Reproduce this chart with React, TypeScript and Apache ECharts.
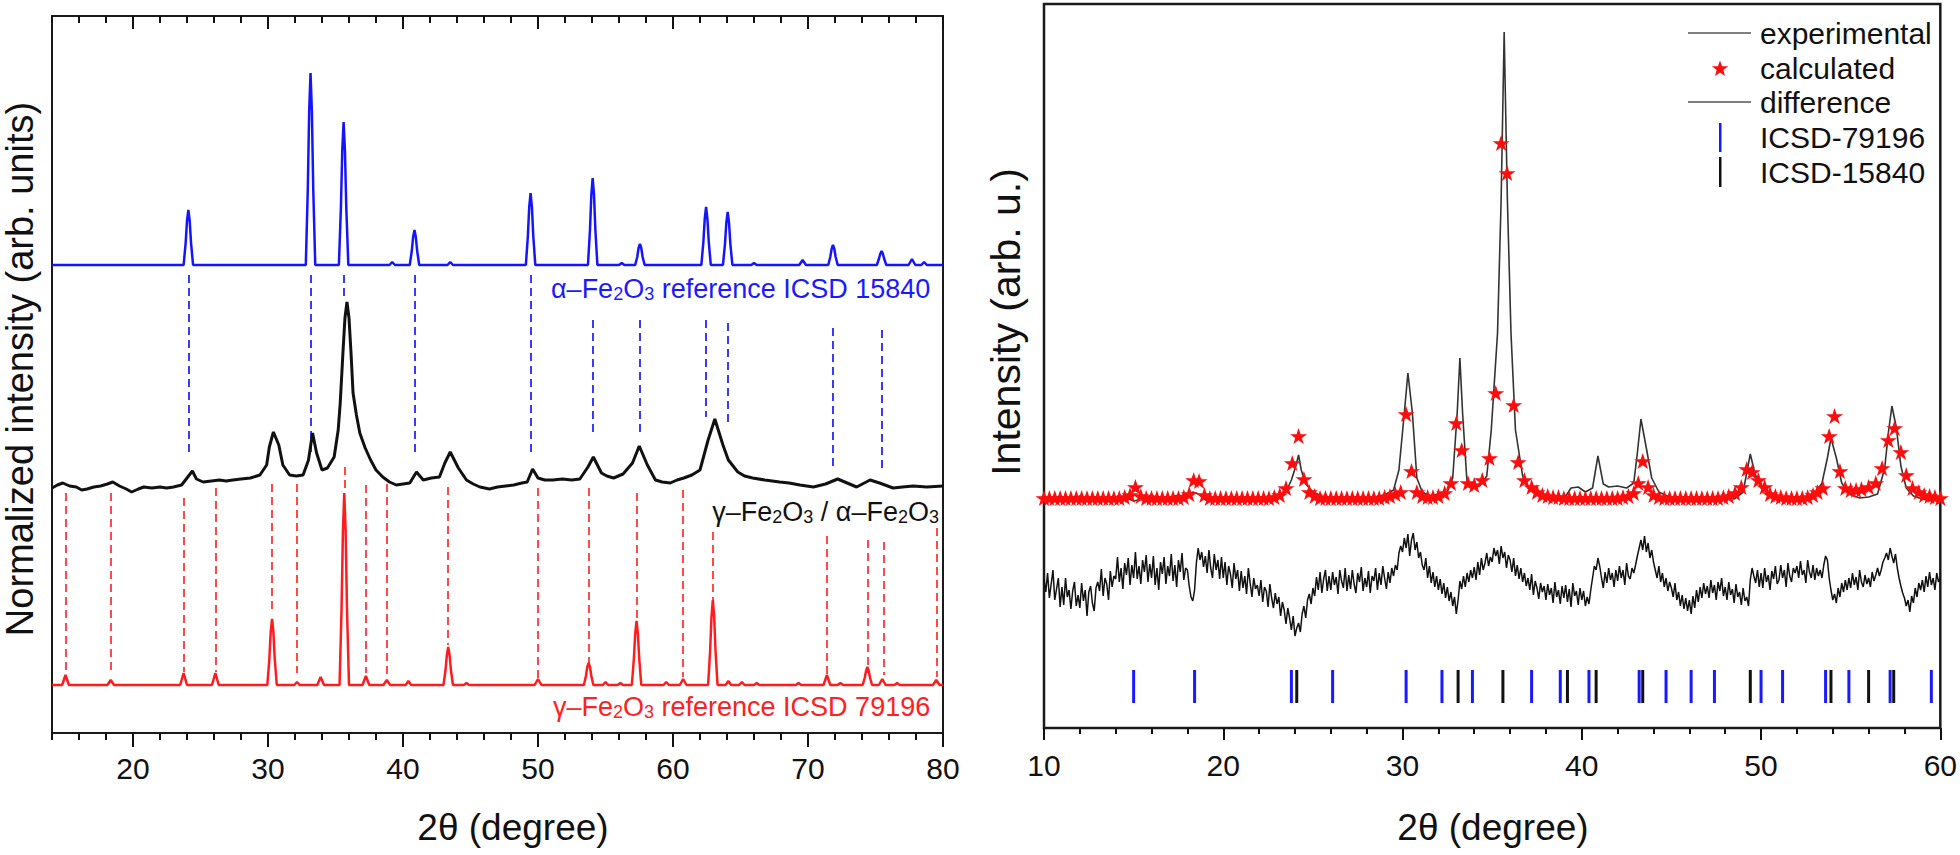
import React, { useEffect, useRef } from "react";
import * as echarts from "echarts";

const FONT = "'Liberation Sans', Arial, Helvetica, sans-serif";

// ---------- axis ticks ----------
const leftMajor = [20, 30, 40, 50, 60, 70, 80];
const leftMinor = [14, 16, 18, 22, 24, 26, 28, 32, 34, 36, 38, 42, 44, 46, 48, 52, 54, 56, 58, 62, 64, 66, 68, 72, 74, 76, 78];
const rightMajor = [10, 20, 30, 40, 50, 60];
const rightMinor = [12, 14, 16, 18, 22, 24, 26, 28, 32, 34, 36, 38, 42, 44, 46, 48, 52, 54, 56, 58];

// ---------- left panel: alpha-Fe2O3 reference (blue) ----------
const alphaRef = [
  [14, 468],
  [23.75, 468], [23.9, 490], [24.0, 512], [24.1, 523], [24.2, 512], [24.3, 490], [24.45, 468],
  [32.8, 468], [32.95, 545], [33.05, 622], [33.15, 660], [33.25, 622], [33.35, 545], [33.5, 468],
  [35.25, 468], [35.4, 525], [35.5, 582], [35.6, 611], [35.7, 582], [35.8, 525], [35.95, 468],
  [39.0, 468], [39.2, 471], [39.4, 468],
  [40.5, 468], [40.65, 482], [40.75, 496], [40.85, 503], [40.95, 496], [41.05, 482], [41.2, 468],
  [43.3, 468], [43.5, 471], [43.7, 468],
  [49.1, 468], [49.25, 497], [49.35, 526], [49.45, 540], [49.55, 526], [49.65, 497], [49.8, 468],
  [53.7, 468], [53.85, 503], [53.95, 538], [54.05, 555], [54.15, 538], [54.25, 503], [54.4, 468],
  [56.0, 468], [56.2, 470], [56.4, 468],
  [57.2, 468], [57.35, 476], [57.45, 485], [57.55, 489], [57.65, 485], [57.75, 476], [57.9, 468],
  [62.1, 468], [62.25, 491], [62.35, 514], [62.45, 526], [62.55, 514], [62.65, 491], [62.8, 468],
  [63.7, 468], [63.85, 489], [63.95, 510], [64.05, 521], [64.15, 510], [64.25, 489], [64.4, 468],
  [65.8, 468], [66.0, 470], [66.2, 468],
  [69.35, 468], [69.6, 473], [69.85, 468],
  [71.5, 468], [71.65, 476], [71.75, 484], [71.85, 488], [71.95, 484], [72.05, 476], [72.2, 468],
  [75.1, 468], [75.25, 474], [75.35, 479], [75.45, 482], [75.55, 479], [75.65, 474], [75.8, 468],
  [77.45, 468], [77.7, 474], [77.95, 468],
  [78.4, 468], [78.6, 471], [78.8, 468],
  [80, 468],
];

// ---------- left panel: gamma/alpha sample (black) ----------
const sample = [
  [14.0, 245], [14.4, 248], [14.8, 250], [15.3, 247], [15.8, 246], [16.2, 243], [16.6, 244], [17.1, 246],
  [17.6, 247], [18.1, 249], [18.5, 251], [19.0, 247], [19.5, 244], [19.9, 241], [20.4, 244], [20.8, 246],
  [21.4, 245], [22.0, 246], [22.5, 245], [23.0, 246], [23.6, 248], [24.0, 255], [24.4, 262], [24.7, 254],
  [25.2, 251], [25.8, 252], [26.4, 253], [26.9, 252], [27.4, 253], [28.0, 254], [28.7, 255], [29.4, 258],
  [29.9, 268], [30.1, 286], [30.4, 301], [30.8, 288], [31.1, 268], [31.6, 258], [32.1, 257], [32.6, 258],
  [33.0, 273], [33.3, 300], [33.6, 280], [34.0, 263], [34.4, 265], [34.9, 276], [35.2, 303], [35.35, 330],
  [35.55, 380], [35.7, 415], [35.85, 431], [36.0, 415], [36.15, 380], [36.3, 340], [36.55, 318], [36.8, 300],
  [37.2, 285], [37.6, 273], [38.0, 263], [38.5, 256], [39.0, 251], [39.5, 248], [40.0, 249], [40.5, 250],
  [41.0, 261], [41.5, 253], [42.1, 255], [42.7, 256], [43.1, 270], [43.5, 281], [44.1, 265], [44.7, 253],
  [45.2, 249], [45.7, 246], [46.4, 244], [47.0, 246], [47.6, 247], [48.2, 248], [48.8, 250], [49.2, 251],
  [49.6, 264], [50.0, 255], [50.5, 253], [51.1, 253], [51.8, 254], [52.5, 253], [53.1, 254], [53.7, 266],
  [54.1, 276], [54.7, 260], [55.1, 257], [55.6, 255], [56.3, 259], [57.0, 270], [57.5, 287], [58.1, 268],
  [58.7, 253], [59.2, 251], [59.8, 250], [60.3, 253], [60.8, 255], [61.4, 258], [62.0, 263], [62.6, 293],
  [63.1, 314], [63.7, 288], [64.1, 273], [64.8, 261], [65.3, 257], [65.9, 255], [66.8, 253], [67.9, 251],
  [68.6, 250], [69.4, 248], [70.4, 246], [71.3, 249], [72.2, 254], [72.9, 250], [73.6, 246], [74.6, 253],
  [75.3, 250], [76.3, 245], [77.0, 246], [77.8, 247], [78.8, 246], [80, 247],
];

// ---------- left panel: gamma-Fe2O3 reference (red) ----------
const gammaRef = [
  [14, 48],
  [14.75, 48], [15.0, 58], [15.25, 48],
  [18.1, 48], [18.35, 53], [18.6, 48],
  [23.5, 48], [23.75, 60], [24.0, 48],
  [25.85, 48], [26.1, 60], [26.35, 48],
  [29.95, 48], [30.1, 74], [30.2, 101], [30.3, 114], [30.4, 101], [30.5, 74], [30.65, 48],
  [31.95, 48], [32.15, 51], [32.35, 48],
  [33.65, 48], [33.9, 56], [34.15, 48],
  [35.3, 48], [35.45, 125], [35.55, 202], [35.65, 240], [35.75, 202], [35.85, 125], [36.0, 48],
  [37.0, 48], [37.25, 57], [37.5, 48],
  [38.55, 48], [38.8, 53], [39.05, 48],
  [40.2, 48], [40.4, 52], [40.6, 48],
  [43.0, 48], [43.15, 63], [43.25, 78], [43.35, 86], [43.45, 78], [43.55, 63], [43.7, 48],
  [44.5, 48], [44.7, 50], [44.9, 48],
  [49.75, 48], [50.0, 54], [50.25, 48],
  [53.4, 48], [53.55, 57], [53.65, 66], [53.75, 70], [53.85, 66], [53.95, 57], [54.1, 48],
  [54.8, 48], [55.0, 51], [55.2, 48],
  [55.9, 48], [56.1, 50], [56.3, 48],
  [56.95, 48], [57.1, 74], [57.2, 99], [57.3, 112], [57.4, 99], [57.5, 74], [57.65, 48],
  [59.3, 48], [59.5, 51], [59.7, 48],
  [60.5, 48], [60.75, 54], [61.0, 48],
  [62.6, 48], [62.75, 82], [62.85, 116], [62.95, 133], [63.05, 116], [63.15, 82], [63.3, 48],
  [63.9, 48], [64.1, 52], [64.3, 48],
  [64.9, 48], [65.1, 51], [65.3, 48],
  [66.0, 48], [66.2, 50], [66.4, 48],
  [69.1, 48], [69.3, 50], [69.5, 48],
  [71.15, 48], [71.4, 58], [71.65, 48],
  [72.2, 48], [72.4, 50], [72.6, 48],
  [74.05, 48], [74.2, 55], [74.3, 62], [74.4, 66], [74.5, 62], [74.6, 55], [74.75, 48],
  [75.25, 48], [75.5, 54], [75.75, 48],
  [76.4, 48], [76.6, 50], [76.8, 48],
  [79.25, 48], [79.5, 53], [79.75, 48],
  [80, 48],
];

// dashed reflection markers: [2theta, top, bottom]
const alphaDash = [
  [24.1, 458, 276], [33.2, 458, 276], [35.6, 458, 435], [40.85, 458, 278], [49.45, 458, 281],
  [54.05, 413, 301], [57.55, 413, 300], [62.45, 413, 316], [64.05, 410, 306], [71.85, 405, 263], [75.45, 403, 265],
];
const gammaDash = [
  [15.0, 240, 60], [18.35, 240, 63], [23.75, 235, 61], [26.1, 245, 61], [30.3, 249, 120], [32.15, 249, 60],
  [35.65, 266, 241], [37.25, 248, 60], [38.8, 249, 58], [43.35, 246, 88], [50.0, 245, 55], [53.75, 245, 70],
  [57.3, 240, 113], [60.75, 243, 56], [62.95, 201, 133], [71.4, 197, 58], [74.4, 193, 60], [75.6, 191, 58], [79.5, 205, 56],
];

// ---------- right panel ----------
const experimental = [
  [10, 230], [10.5, 226], [11, 231], [11.5, 228], [12, 232], [12.5, 227], [13, 229], [13.5, 226], [14, 230],
  [14.5, 231], [15, 227], [15.5, 229], [16, 233], [16.5, 228], [17, 230], [17.5, 233], [18, 231], [18.3, 236],
  [18.6, 234], [19, 228], [19.5, 227], [20, 230], [20.5, 232], [21, 226], [21.5, 229], [22, 231], [22.5, 228],
  [23, 232], [23.5, 236], [23.8, 248], [24.05, 262], [24.2, 273], [24.35, 258], [24.6, 244], [25, 236],
  [25.5, 232], [26, 231], [26.5, 228], [27, 230], [27.5, 229], [28, 226], [28.5, 231], [29, 233], [29.5, 238],
  [29.8, 258], [30.1, 315], [30.3, 355], [30.55, 315], [30.8, 250], [31.1, 236], [31.5, 232], [32, 234],
  [32.5, 236], [32.8, 250], [33.05, 315], [33.2, 370], [33.35, 315], [33.6, 245], [33.9, 240], [34.3, 242],
  [34.7, 252], [34.95, 298], [35.3, 395], [35.5, 528], [35.67, 696], [35.85, 528], [36.05, 395], [36.3, 298],
  [36.7, 252], [37.0, 240], [37.5, 234], [38, 230], [38.5, 227], [39, 229], [39.4, 240], [39.8, 241],
  [40.2, 236], [40.6, 240], [40.9, 272], [41.2, 244], [41.5, 241], [42, 242], [42.5, 240], [42.9, 245],
  [43.1, 275], [43.3, 309], [43.6, 280], [43.9, 250], [44.3, 236], [45, 230], [45.5, 228], [46, 229],
  [46.5, 226], [47, 230], [47.5, 228], [48, 231], [48.5, 229], [49, 236], [49.2, 255], [49.4, 274],
  [49.65, 255], [50, 240], [50.5, 234], [51, 230], [51.5, 232], [52, 229], [52.5, 231], [53, 234],
  [53.4, 245], [53.7, 270], [53.9, 290], [54.2, 270], [54.5, 245], [54.9, 234], [55.5, 230], [56, 231],
  [56.5, 234], [56.9, 260], [57.1, 295], [57.3, 322], [57.55, 300], [57.8, 262], [58.1, 240], [58.5, 232],
  [59, 229], [59.5, 227], [60, 230],
];

const calculated = [
  [10.0, 230], [10.3, 230], [10.6, 230], [10.9, 230], [11.2, 230], [11.5, 230], [11.8, 230], [12.1, 230],
  [12.4, 230], [12.7, 230], [13.0, 230], [13.3, 230], [13.6, 230], [13.9, 230], [14.2, 230], [14.5, 231],
  [14.8, 233], [15.1, 241], [15.4, 232], [15.7, 230], [16.0, 230], [16.3, 230], [16.6, 230], [16.9, 230],
  [17.2, 230], [17.5, 230], [17.8, 231], [18.1, 234], [18.35, 248], [18.65, 247], [18.95, 233], [19.25, 230],
  [19.55, 230], [19.85, 230], [20.15, 230], [20.45, 230], [20.75, 230], [21.05, 230], [21.35, 230], [21.65, 230],
  [21.95, 230], [22.25, 230], [22.55, 230], [22.85, 231], [23.15, 233], [23.5, 240], [23.85, 265], [24.2, 292],
  [24.5, 249], [24.8, 236], [25.1, 232], [25.4, 230], [25.7, 230], [26.0, 230], [26.3, 230], [26.6, 230],
  [26.9, 230], [27.2, 230], [27.5, 230], [27.8, 230], [28.1, 230], [28.4, 230], [28.7, 230], [29.0, 231],
  [29.3, 232], [29.6, 234], [29.9, 236], [30.2, 314], [30.5, 257], [30.8, 236], [31.1, 232], [31.4, 231],
  [31.7, 231], [32.0, 232], [32.35, 235], [32.7, 245], [33.0, 305], [33.3, 278], [33.65, 245], [34.0, 243],
  [34.45, 248], [34.85, 270], [35.2, 335], [35.5, 585], [35.83, 555], [36.2, 323], [36.45, 266], [36.8, 248],
  [37.2, 241], [37.5, 236], [37.8, 233], [38.1, 232], [38.4, 231], [38.7, 231], [39.0, 230], [39.3, 230],
  [39.6, 230], [39.9, 230], [40.2, 230], [40.5, 230], [40.8, 230], [41.1, 230], [41.4, 230], [41.7, 230],
  [42.0, 230], [42.3, 231], [42.6, 232], [42.9, 235], [43.15, 245], [43.4, 267], [43.7, 241], [44.0, 233],
  [44.3, 231], [44.6, 230], [44.9, 230], [45.2, 230], [45.5, 230], [45.8, 230], [46.1, 230], [46.4, 230],
  [46.7, 230], [47.0, 230], [47.3, 230], [47.6, 230], [47.9, 231], [48.2, 232], [48.55, 235], [48.9, 241],
  [49.2, 259], [49.5, 256], [49.85, 248], [50.2, 241], [50.5, 234], [50.8, 232], [51.1, 231], [51.4, 230],
  [51.7, 230], [52.0, 230], [52.3, 230], [52.6, 231], [52.9, 233], [53.15, 236], [53.45, 240], [53.8, 292],
  [54.1, 312], [54.4, 257], [54.7, 240], [55.0, 238], [55.3, 238], [55.6, 239], [56.0, 241], [56.4, 245],
  [56.75, 260], [57.1, 288], [57.45, 300], [57.8, 276], [58.1, 253], [58.45, 240], [58.8, 236], [59.1, 233],
  [59.4, 232], [59.7, 231], [60.0, 230],
];

// difference curve sampled every 0.1 degree from 10.0 to 60.0 (one row = one degree)
const diffStart = 10;
const diffStep = 0.1;
const difference = [
  149, 136, 155, 130, 144, 158, 128, 139, 150, 121,
  141, 123, 150, 131, 138, 119, 137, 146, 122, 133,
  120, 145, 127, 138, 112, 136, 142, 125, 117, 140,
  146, 137, 159, 132, 150, 144, 128, 157, 141, 152,
  149, 171, 146, 160, 139, 165, 153, 170, 143, 163,
  150, 176, 149, 162, 144, 168, 156, 173, 146, 164,
  150, 172, 143, 160, 138, 166, 154, 171, 144, 162,
  152, 174, 147, 163, 141, 168, 156, 175, 148, 160,
  158, 142, 131, 127, 138, 165, 180, 168, 176, 161,
  172, 155, 178, 160, 150, 174, 158, 168, 149, 171,
  150, 166, 143, 162, 154, 140, 165, 149, 158, 137,
  157, 140, 152, 134, 160, 145, 131, 150, 139, 143,
  132, 148, 126, 141, 137, 121, 144, 130, 120, 135,
  124, 131, 112, 126, 118, 104, 120, 110, 98, 112,
  92, 100, 105, 96, 114, 122, 110, 128, 134, 124,
  140, 132, 151, 138, 156, 135, 149, 158, 137, 152,
  138, 156, 143, 151, 134, 158, 147, 140, 160, 137,
  153, 139, 158, 144, 135, 155, 146, 161, 137, 150,
  141, 157, 135, 152, 147, 160, 138, 155, 143, 162,
  150, 139, 156, 145, 160, 152, 163, 158, 175, 182,
  176, 190, 180, 194, 172, 188, 195, 178, 186, 170,
  176, 163, 158, 170, 150, 162, 145, 156, 141, 152,
  138, 149, 134, 145, 130, 141, 127, 136, 122, 131,
  114, 128, 147, 139, 152, 141, 155, 146, 158, 150,
  161, 148, 166, 153, 170, 158, 165, 175, 162, 171,
  166, 180, 172, 178, 164, 182, 170, 176, 160, 173,
  168, 156, 170, 152, 163, 149, 160, 146, 155, 142,
  150, 138, 154, 133, 147, 140, 129, 145, 136, 142,
  128, 144, 133, 140, 125, 146, 131, 138, 124, 142,
  130, 143, 126, 139, 121, 145, 132, 137, 123, 140,
  128, 137, 122, 131, 124, 138, 150, 162, 158, 170,
  162, 150, 140, 156, 145, 160, 148, 155, 141, 158,
  147, 162, 150, 158, 143, 165, 152, 149, 160, 155,
  163, 172, 180, 188, 178, 192, 176, 185, 170, 178,
  166, 158, 150, 162, 146, 155, 141, 150, 137, 146,
  140, 131, 145, 128, 136, 122, 133, 119, 130, 117,
  128, 114, 132, 120, 138, 126, 141, 130, 145, 134,
  142, 130, 148, 135, 143, 128, 146, 137, 150, 132,
  141, 128, 146, 133, 139, 125, 144, 131, 136, 123,
  140, 127, 131, 122, 148, 160, 152, 145, 158, 141,
  155, 140, 160, 146, 153, 138, 157, 149, 162, 144,
  148, 163, 150, 158, 141, 165, 152, 146, 160, 155,
  162, 150, 167, 153, 158, 145, 168, 156, 150, 163,
  148, 160, 152, 158, 150, 163, 172, 168, 150, 138,
  128, 134, 125, 140, 131, 145, 136, 148, 138, 150,
  140, 155, 143, 151, 138, 158, 146, 141, 153, 144,
  150, 141, 156, 147, 153, 160, 152, 158, 166, 170,
  175, 168, 180, 172, 165, 174, 160, 150, 142, 135,
  130, 122, 128, 116, 132, 125, 140, 131, 145, 138,
  148, 136, 152, 141, 156, 143, 150, 138, 155, 146,
  150,
];

// Bragg reflection positions
const icsd79196 = [15.0, 18.4, 23.8, 26.1, 30.2, 32.2, 33.9, 37.2, 38.8, 40.4, 43.2, 44.7, 46.1, 47.4, 50.0, 51.2, 53.6, 54.9, 57.2, 59.5];
const icsd15840 = [24.1, 33.1, 35.6, 39.2, 40.8, 43.4, 49.4, 53.9, 56.0, 57.4];
const braggLevel = 41.5;

const STAR = "path://M50,0 L61.8,35.1 98.1,35.1 68.8,56.7 79.4,91.2 50,70 20.6,91.2 31.2,56.7 1.9,35.1 38.2,35.1 Z";

function tickAxis(gridIndex: number, position: string, min: number, max: number, values: number[], length: number, inside: boolean, labels: boolean, margin = 20) {
  return {
    type: "value",
    gridIndex,
    position,
    min,
    max,
    axisLine: { show: false },
    axisTick: { show: true, customValues: values, length, inside, lineStyle: { color: "#111", width: 2 } },
    axisLabel: labels
      ? { show: true, customValues: values, fontSize: 30, color: "#111", fontFamily: FONT, margin }
      : { show: false },
    splitLine: { show: false },
  };
}

function starPoints(cx: number, cy: number, ro: number, ri: number) {
  const pts: number[][] = [];
  for (let k = 0; k < 10; k++) {
    const r = k % 2 === 0 ? ro : ri;
    const a = -Math.PI / 2 + (k * Math.PI) / 5;
    pts.push([cx + r * Math.cos(a), cy + r * Math.sin(a)]);
  }
  return pts;
}

function formulaText(parts: string[], color: string, size: number) {
  // parts alternate: normal, subscript, normal, subscript, normal...
  const text = parts.map((p, i) => (i % 2 === 0 ? `{n|${p}}` : `{s|${p}}`)).join("");
  return {
    text,
    rich: {
      n: { fontSize: size, lineHeight: size, padding: [0, 0, 5, 0], verticalAlign: "top", fill: color, fontFamily: FONT },
      s: { fontSize: Math.round(size * 0.65), lineHeight: Math.round(size * 0.65), verticalAlign: "bottom", fill: color, fontFamily: FONT },
    },
  };
}

function buildOption() {
  const diffData = difference.map((v, i) => [+(diffStart + i * diffStep).toFixed(2), v]);
  return {
    animation: false,
    backgroundColor: "#fff",
    textStyle: { fontFamily: FONT },
    grid: [
      { left: 52, top: 16, width: 891, height: 717, show: true, borderColor: "#1a1a1a", borderWidth: 2, backgroundColor: "transparent" },
      { left: 1044, top: 4, width: 898, height: 724, show: true, borderColor: "#1a1a1a", borderWidth: 2.5, backgroundColor: "transparent" },
    ],
    xAxis: [
      tickAxis(0, "bottom", 14, 80, leftMajor, 14, false, true, 20),
      tickAxis(0, "bottom", 14, 80, leftMinor, 7, false, false),
      tickAxis(0, "top", 14, 80, leftMajor, 13, true, false),
      tickAxis(0, "top", 14, 80, leftMinor, 7, true, false),
      tickAxis(1, "bottom", 10, 60, rightMajor, 12, false, true, 22),
      tickAxis(1, "bottom", 10, 60, rightMinor, 6, false, false),
    ],
    yAxis: [
      { type: "value", gridIndex: 0, min: 0, max: 717, show: false },
      { type: "value", gridIndex: 1, min: 0, max: 724, show: false },
    ],
    series: [
      {
        type: "lines", coordinateSystem: "cartesian2d", xAxisIndex: 0, yAxisIndex: 0, z: 2,
        lineStyle: { color: "#3a3aff", width: 2, type: [8, 5], opacity: 1 },
        data: alphaDash.map((d) => ({ coords: [[d[0], d[1]], [d[0], d[2]]] })),
      },
      {
        type: "lines", coordinateSystem: "cartesian2d", xAxisIndex: 0, yAxisIndex: 0, z: 2,
        lineStyle: { color: "#ff4a4a", width: 2, type: [8, 5], opacity: 1 },
        data: gammaDash.map((d) => ({ coords: [[d[0], d[1]], [d[0], d[2]]] })),
      },
      { type: "line", xAxisIndex: 0, yAxisIndex: 0, data: alphaRef, showSymbol: false, symbol: "none", z: 3, lineStyle: { color: "#1414ff", width: 2.5 } },
      { type: "line", xAxisIndex: 0, yAxisIndex: 0, data: sample, showSymbol: false, symbol: "none", z: 3, lineStyle: { color: "#111", width: 3 } },
      { type: "line", xAxisIndex: 0, yAxisIndex: 0, data: gammaRef, showSymbol: false, symbol: "none", z: 3, lineStyle: { color: "#ff1c1c", width: 2.5 } },

      { type: "line", name: "experimental", xAxisIndex: 4, yAxisIndex: 1, data: experimental, showSymbol: false, symbol: "none", z: 3, lineStyle: { color: "#333", width: 1.6 } },
      { type: "scatter", name: "calculated", xAxisIndex: 4, yAxisIndex: 1, data: calculated, symbol: STAR, symbolSize: [17, 16], z: 4, itemStyle: { color: "#ff0d0d", opacity: 1 } },
      { type: "line", name: "difference", xAxisIndex: 4, yAxisIndex: 1, data: diffData, showSymbol: false, symbol: "none", z: 3, lineStyle: { color: "#111", width: 1.5 } },
      { type: "scatter", name: "ICSD-79196", xAxisIndex: 4, yAxisIndex: 1, data: icsd79196.map((x) => [x, braggLevel]), symbol: "rect", symbolSize: [3, 33], z: 4, itemStyle: { color: "#1a1aff", opacity: 1 } },
      { type: "scatter", name: "ICSD-15840", xAxisIndex: 4, yAxisIndex: 1, data: icsd15840.map((x) => [x, braggLevel]), symbol: "rect", symbolSize: [3, 33], z: 5, itemStyle: { color: "#111", opacity: 1 } },
    ],
    graphic: [
      // axis titles
      { type: "text", x: 20, y: 369, rotation: Math.PI / 2, style: { text: "Normalized intensity (arb. units)", fontSize: 38, fontFamily: FONT, fill: "#111", align: "center", verticalAlign: "middle" } },
      { type: "text", x: 513, y: 827, style: { text: "2θ (degree)", fontSize: 37, fontFamily: FONT, fill: "#111", align: "center", verticalAlign: "middle" } },
      { type: "text", x: 1006, y: 322, rotation: Math.PI / 2, style: { text: "Intensity (arb. u.)", fontSize: 41, fontFamily: FONT, fill: "#111", align: "center", verticalAlign: "middle" } },
      { type: "text", x: 1493, y: 827, style: { text: "2θ (degree)", fontSize: 37, fontFamily: FONT, fill: "#111", align: "center", verticalAlign: "middle" } },
      // in-plot labels (left)
      { type: "text", x: 551, y: 289, z: 10, style: { ...formulaText(["α–Fe", "2", "O", "3", " reference ICSD 15840"], "#1a1aff", 27), align: "left", verticalAlign: "middle" } },
      { type: "text", x: 939, y: 512, z: 10, style: { ...formulaText(["γ–Fe", "2", "O", "3", " / α–Fe", "2", "O", "3"], "#111", 27), align: "right", verticalAlign: "middle" } },
      { type: "text", x: 553, y: 707, z: 10, style: { ...formulaText(["γ–Fe", "2", "O", "3", " reference ICSD 79196"], "#ff2020", 27), align: "left", verticalAlign: "middle" } },
      // legend (right)
      { type: "line", shape: { x1: 1688, y1: 33, x2: 1751, y2: 33 }, style: { stroke: "#555", lineWidth: 1.6 } },
      { type: "polygon", shape: { points: starPoints(1720, 69, 8.5, 3.5) }, style: { fill: "#ff0d0d" } },
      { type: "line", shape: { x1: 1688, y1: 102, x2: 1751, y2: 102 }, style: { stroke: "#555", lineWidth: 1.6 } },
      { type: "rect", shape: { x: 1719, y: 123, width: 2.5, height: 29 }, style: { fill: "#1a1aff" } },
      { type: "rect", shape: { x: 1719, y: 157, width: 2.5, height: 30 }, style: { fill: "#111" } },
      { type: "text", x: 1760, y: 33, style: { text: "experimental", fontSize: 30, fontFamily: FONT, fill: "#111", verticalAlign: "middle" } },
      { type: "text", x: 1760, y: 68, style: { text: "calculated", fontSize: 30, fontFamily: FONT, fill: "#111", verticalAlign: "middle" } },
      { type: "text", x: 1760, y: 102, style: { text: "difference", fontSize: 30, fontFamily: FONT, fill: "#111", verticalAlign: "middle" } },
      { type: "text", x: 1760, y: 137, style: { text: "ICSD-79196", fontSize: 30, fontFamily: FONT, fill: "#111", verticalAlign: "middle" } },
      { type: "text", x: 1760, y: 172, style: { text: "ICSD-15840", fontSize: 30, fontFamily: FONT, fill: "#111", verticalAlign: "middle" } },
    ],
  };
}

export default function App() {
  const ref = useRef<HTMLDivElement>(null);
  useEffect(() => {
    if (!ref.current) return;
    const chart = echarts.init(ref.current, null, { renderer: "svg" });
    chart.setOption(buildOption() as any);
    return () => chart.dispose();
  }, []);
  return (
    <div
      ref={ref}
      style={{ position: "absolute", left: 0, top: 0, width: 1960, height: 855, background: "#fff" }}
    />
  );
}
